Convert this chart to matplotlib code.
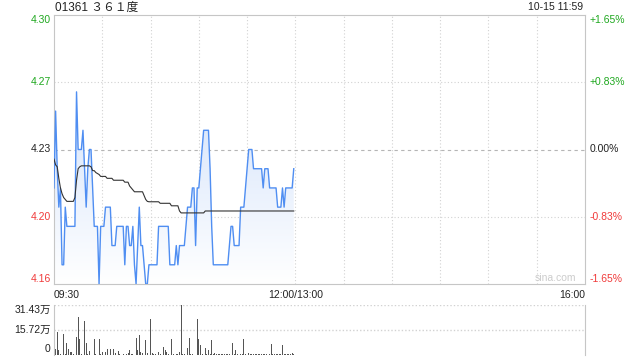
import numpy as np
import matplotlib
matplotlib.use("Agg")
import matplotlib.pyplot as plt
from matplotlib.patches import Polygon
from matplotlib.colors import LinearSegmentedColormap
from matplotlib.transforms import blended_transform_factory

plt.rcParams['font.family'] = ['Liberation Sans', 'Noto Sans CJK SC', 'DejaVu Sans']

# header texts
stock_code = "01361"
stock_name = "３６１度"
stamp = "10-15 11:59"
watermark = "sina.com"

# previous close and half range of the price axis
base_price = 4.23
half_range = 0.07

# one price per minute, 09:30 .. 11:59
prices = [4.21, 4.25, 4.22, 4.20, 4.21, 4.17, 4.17, 4.20, 4.19, 4.19,
          4.19, 4.19, 4.19, 4.19, 4.26, 4.23, 4.23, 4.23, 4.24, 4.22,
          4.20, 4.22, 4.23, 4.23, 4.21, 4.19, 4.19, 4.19, 4.16, 4.19,
          4.19, 4.19, 4.20, 4.20, 4.20, 4.20, 4.18, 4.18, 4.18, 4.19,
          4.19, 4.19, 4.19, 4.19, 4.17, 4.19, 4.19, 4.18, 4.18, 4.19,
          4.17, 4.16, 4.18, 4.20, 4.18, 4.18, 4.17, 4.16, 4.16, 4.17,
          4.17, 4.17, 4.17, 4.17, 4.17, 4.19, 4.19, 4.19, 4.19, 4.19,
          4.19, 4.19, 4.17, 4.17, 4.17, 4.17, 4.18, 4.17, 4.18, 4.18,
          4.18, 4.18, 4.19, 4.20, 4.20, 4.20, 4.21, 4.21, 4.18, 4.21,
          4.21, 4.22, 4.23, 4.24, 4.24, 4.24, 4.24, 4.22, 4.19, 4.17,
          4.17, 4.17, 4.17, 4.17, 4.17, 4.17, 4.17, 4.17, 4.17, 4.18,
          4.19, 4.19, 4.18, 4.18, 4.18, 4.18, 4.20, 4.20, 4.20, 4.21,
          4.22, 4.23, 4.23, 4.23, 4.22, 4.22, 4.22, 4.22, 4.22, 4.22,
          4.21, 4.22, 4.22, 4.22, 4.21, 4.21, 4.21, 4.21, 4.21, 4.20,
          4.20, 4.20, 4.21, 4.20, 4.21, 4.21, 4.21, 4.21, 4.21, 4.22]

# average price line
avg_prices = [4.225, 4.222, 4.221, 4.215, 4.210, 4.207, 4.205, 4.204, 4.203, 4.203,
              4.203, 4.203, 4.203, 4.205, 4.214, 4.220, 4.221, 4.2215, 4.2215, 4.2215,
              4.2215, 4.2215, 4.2215, 4.221, 4.219, 4.219, 4.218, 4.2175, 4.217, 4.216,
              4.216, 4.216, 4.216, 4.215, 4.215, 4.215, 4.215, 4.214, 4.214, 4.214,
              4.214, 4.214, 4.214, 4.214, 4.213, 4.213, 4.213, 4.211, 4.210, 4.209,
              4.208, 4.208, 4.208, 4.208, 4.208, 4.208, 4.206, 4.204, 4.203, 4.2028,
              4.2028, 4.2028, 4.2028, 4.2028, 4.2028, 4.2028, 4.202, 4.202, 4.202, 4.202,
              4.202, 4.202, 4.202, 4.2007, 4.2007, 4.2007, 4.2007, 4.2007, 4.198, 4.197,
              4.197, 4.197, 4.197, 4.197, 4.197, 4.197, 4.197, 4.197, 4.197, 4.197,
              4.197, 4.197, 4.197, 4.197] + [4.198] * 56

# volume per minute, in 万 shares
volumes = [0.4, 3.6, 14.3, 3.0, 0.4, 0.0, 12.8, 0.4, 7.3, 3.2,
           1.5, 1.9, 0.4, 0.0, 11.1, 23.9, 10.0, 0.6, 0.0, 21.4,
           7.3, 0.6, 2.1, 3.2, 0.0, 9.6, 0.4, 0.0, 9.6, 0.4,
           1.5, 0.0, 1.5, 3.8, 0.0, 3.2, 0.0, 3.2, 0.8, 0.0,
           2.1, 0.4, 0.0, 0.4, 0.0, 0.4, 1.0, 2.6, 0.4, 0.4,
           0.0, 10.5, 2.6, 12.4, 1.5, 1.0, 0.0, 9.0, 0.8, 0.0,
           22.4, 0.8, 0.4, 0.4, 0.0, 1.9, 0.4, 0.0, 4.7, 2.6,
           1.5, 0.4, 0.0, 9.6, 0.4, 0.0, 0.4, 0.4, 1.5, 31.43,
           0.4, 0.4, 0.0, 4.1, 10.5, 0.4, 0.4, 0.4, 0.0, 22.4,
           9.6, 5.8, 0.4, 0.0, 4.1, 0.4, 2.6, 0.4, 9.0, 0.4,
           0.8, 0.4, 0.4, 0.4, 0.4, 0.4, 0.4, 0.4, 0.4, 0.4,
           0.4, 7.3, 0.4, 2.6, 0.4, 0.0, 0.4, 0.4, 9.6, 0.4,
           0.0, 0.8, 0.4, 0.4, 0.4, 0.4, 0.4, 0.4, 0.4, 0.4,
           0.4, 0.4, 0.4, 0.4, 0.4, 6.6, 0.4, 0.4, 0.4, 0.4,
           0.4, 0.4, 6.0, 0.4, 0.4, 0.4, 0.4, 0.4, 1.0, 0.4]
vol_max = 31.43

price_labels = ["4.30", "4.27", "4.23", "4.20", "4.16"]
pct_labels = ["+1.65%", "+0.83%", "0.00%", "-0.83%", "-1.65%"]
vol_labels = ["31.43万", "15.72万", "0"]
time_labels = ["09:30", "12:00/13:00", "16:00"]
time_ticks = [0, 150, 330]

green = "#1fa81f"
red = "#f03a3a"
grid_c = "#d2d2d2"
border_c = "#c6c6c6"

minutes = np.arange(len(prices))
ylo = base_price - half_range
yhi = base_price + half_range

fig = plt.figure(figsize=(6.4, 3.6), dpi=100)
ax = fig.add_axes([54 / 640, 1 - 284 / 360, 531 / 640, 269 / 360])
ax.set_xlim(0, 330)
ax.set_ylim(ylo, yhi)

# light blue gradient under the price line
cmap = LinearSegmentedColormap.from_list("fill", ["#ffffff", "#d4e3fb"])
grad = np.linspace(0, 1, 256).reshape(-1, 1)
im = ax.imshow(grad, cmap=cmap, aspect="auto", origin="lower",
               extent=[0, minutes[-1], ylo, max(prices)], zorder=1)
verts = [(0, ylo)] + list(zip(minutes, prices)) + [(minutes[-1], ylo)]
patch = Polygon(verts, closed=True, facecolor="none", edgecolor="none")
ax.add_patch(patch)
im.set_clip_path(patch)
ax.set_xlim(0, 330)
ax.set_ylim(ylo, yhi)

# grid
for t in range(30, 330, 30):
    ax.axvline(t, color=grid_c, lw=0.8, ls=(0, (1, 2)), zorder=0)
ax.axhline(base_price + half_range / 2, color=grid_c, lw=0.8, ls=(0, (1, 2)), zorder=0)
ax.axhline(base_price - half_range / 2, color=grid_c, lw=0.8, ls=(0, (1, 2)), zorder=0)
ax.axhline(base_price, color="#b5b5b5", lw=0.8, ls=(0, (3, 3)), zorder=0)

ax.plot(minutes, prices, color="#4f8ef2", lw=1.0, zorder=3)
ax.plot(minutes, avg_prices, color="#333333", lw=0.8, zorder=4)

ax.set_xticks([])
ax.set_yticks([])
for s in ax.spines.values():
    s.set_color(border_c)
    s.set_linewidth(0.8)

trans = blended_transform_factory(ax.transAxes, ax.transData)
levels = [yhi, base_price + half_range / 2, base_price, base_price - half_range / 2, ylo]
valign = ["top", "center", "center", "center", "bottom"]
colors = [green, green, "#222222", red, red]
for lv, pl, pc, va, c in zip(levels, price_labels, pct_labels, valign, colors):
    ax.text(-0.006, lv, pl, transform=trans, ha="right", va=va, fontsize=7.5, color=c)
    ax.text(1.008, lv, pc, transform=trans, ha="left", va=va, fontsize=7.5, color=c)

ttrans = blended_transform_factory(ax.transData, ax.transAxes)
for t, lab, ha in zip(time_ticks, time_labels, ["left", "center", "right"]):
    ax.text(t, -0.042, lab, transform=ttrans, ha=ha, va="center", fontsize=7.5, color="#222222")

ax.text(0.945, 0.024, watermark, transform=ax.transAxes, ha="center", va="center",
        fontsize=7.5, color="#cccccc")

fig.text(55 / 640, 1 - 7.5 / 360, stock_code + " " + stock_name, ha="left", va="center",
         fontsize=8.5, color="#222222")
fig.text(583 / 640, 1 - 7.5 / 360, stamp, ha="right", va="center",
         fontsize=7.5, color="#222222")

# volume panel
ax2 = fig.add_axes([54 / 640, 1 - 354.5 / 360, 531 / 640, 49.5 / 360])
ax2.set_xlim(0, 330)
ax2.set_ylim(0, vol_max)
ax2.bar(minutes, volumes, width=0.6, color="#555555", zorder=2)
ax2.axhline(vol_max, color=grid_c, lw=1.0, ls=(0, (1, 1.5)), zorder=0)
ax2.axhline(vol_max / 2, color=grid_c, lw=1.0, ls=(0, (1, 1.5)), zorder=0)
ax2.set_xticks([])
ax2.set_yticks([])
for side in ["top", "bottom"]:
    ax2.spines[side].set_visible(False)
for side in ["left", "right"]:
    ax2.spines[side].set_color(border_c)
    ax2.spines[side].set_linewidth(0.8)

vtrans = blended_transform_factory(ax2.transAxes, ax2.transData)
for lv, lab, va in zip([vol_max, vol_max / 2, 0], vol_labels, ["top", "center", "bottom"]):
    ax2.text(-0.006, lv, lab, transform=vtrans, ha="right", va=va, fontsize=7.5, color="#222222")

fig.savefig("out.png", dpi=100)
